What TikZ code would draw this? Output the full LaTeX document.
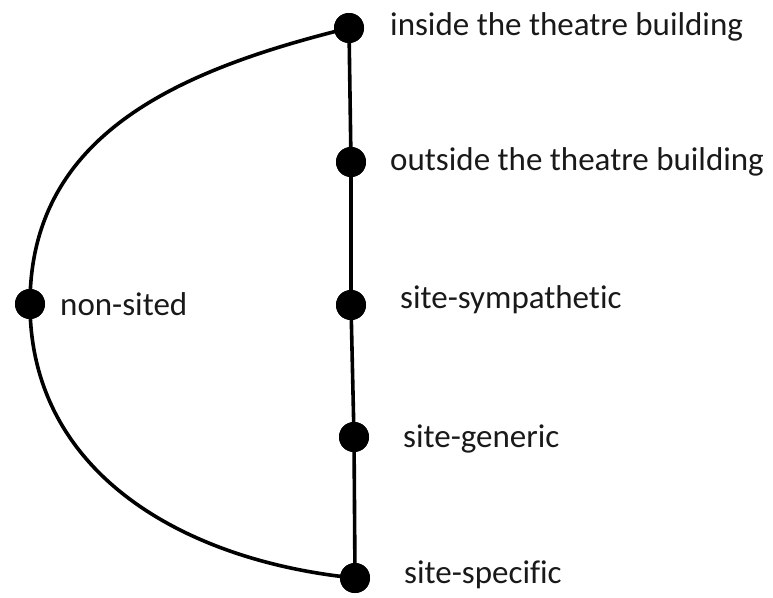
\documentclass[tikz,border=0pt]{standalone}
\usepackage{fontspec}
\setmainfont[Ligatures={NoCommon,NoRare,NoContextual}]{Carlito}
\begin{document}
\begin{tikzpicture}[x=1pt,y=-1pt,
  dot/.style={circle,fill=black,inner sep=0pt,minimum size=30pt},
  lbl/.style={anchor=base west,inner sep=0pt,font=\fontsize{33}{36}\selectfont,text=black!90},
  conn/.style={line width=3.6pt}]
\useasboundingbox (0,0) rectangle (773,597);
\node[dot] (a) at (349,28) {};
\node[dot] (b) at (351,162) {};
\node[dot] (c) at (351,305) {};
\node[dot] (d) at (354,437) {};
\node[dot] (e) at (355,578) {};
\node[dot] (n) at (30,304) {};
\draw[conn] (a.center) -- (b.center) -- (c.center) -- (d.center) -- (e.center);
\draw[conn] (a.center) .. controls (179,70) and (30,134) .. (n.center)
  .. controls (30,474) and (185,561) .. (e.center);
\node[dot] at (a) {};
\node[dot] at (b) {};
\node[dot] at (c) {};
\node[dot] at (d) {};
\node[dot] at (e) {};
\node[dot] at (n) {};
\node[lbl] (la) at (390,35) {inside the theatre building};
\node[lbl] (lb) at (390,170) {outside the theatre building};
\node[lbl] (lc) at (400,308) {site-sympathetic};
\node[lbl] (ld) at (403,447) {site-generic};
\node[lbl] (le) at (404,583) {site-specific};
\node[lbl] (ln) at (60,315) {non-sited};
\end{tikzpicture}
\end{document}
